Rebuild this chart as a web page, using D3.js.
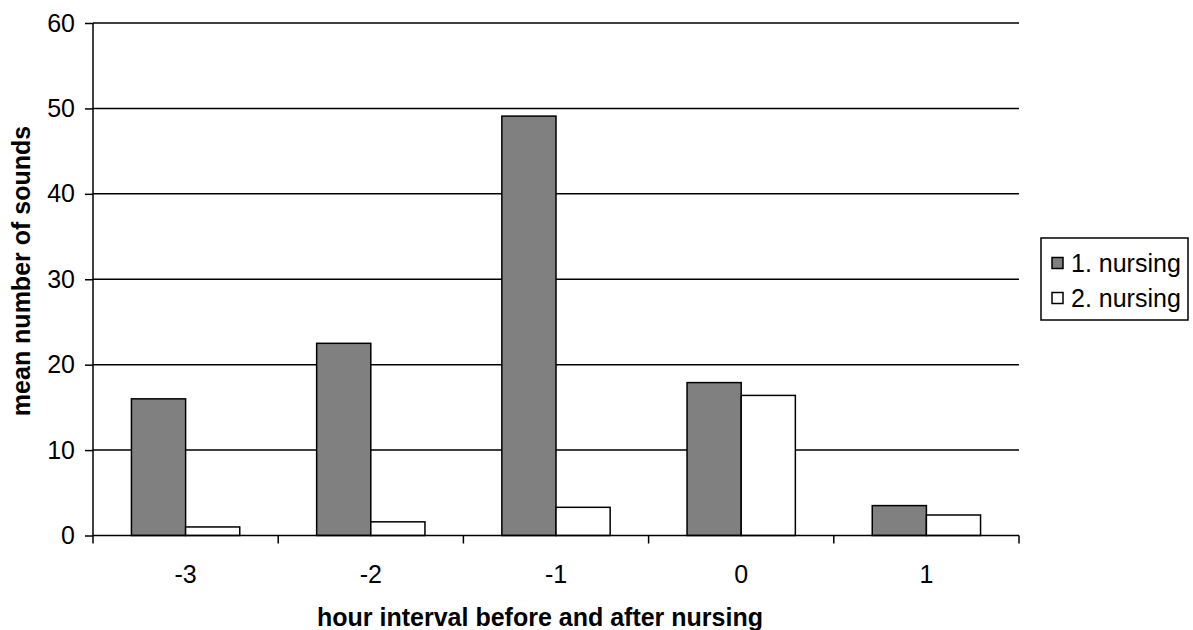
<!DOCTYPE html>
<html><head><meta charset="utf-8">
<script src="https://cdn.jsdelivr.net/npm/d3@7"></script>
<style>body{margin:0;background:#fff}svg{display:block}text{font-family:Arial,"Liberation Sans",sans-serif}</style>
</head><body>
<svg id="c" width="1193" height="630"></svg>
<script>
const categories = ["-3","-2","-1","0","1"];
const seriesNames = ["1. nursing","2. nursing"];
const nursing1 = [16.0, 22.5, 49.1, 17.9, 3.5];
const nursing2 = [1.0, 1.6, 3.3, 16.4, 2.4];
const yTicks = [0,10,20,30,40,50,60];
const colors = ["#808080","#ffffff"];

const FS = 25;
const svg = d3.select("#c");
const m = {l:93, r:1019, t:23, b:535.5};
const x = d3.scaleBand().domain(categories).range([m.l,m.r]);
const xs = d3.scaleBand().domain(seriesNames).range([0,x.bandwidth()]).paddingInner(0).paddingOuter(0.71);
const y = d3.scaleLinear().domain([0,60]).range([m.b,m.t]);

// gridlines
svg.append("g").selectAll("line").data(yTicks.filter(d=>d>0)).join("line")
  .attr("x1",m.l).attr("x2",m.r).attr("y1",d=>y(d)).attr("y2",d=>y(d))
  .attr("stroke","#000").attr("stroke-width",1.5);

const series = [nursing1,nursing2];
series.forEach((vals,si)=>{
  svg.append("g").selectAll("rect").data(vals).join("rect")
    .attr("x",(d,i)=>x(categories[i])+xs(seriesNames[si]))
    .attr("width",xs.bandwidth())
    .attr("y",d=>y(d)).attr("height",d=>y(0)-y(d))
    .attr("fill",colors[si]).attr("stroke","#000").attr("stroke-width",1.5);
});

// y axis
const ya = svg.append("g").attr("transform",`translate(${m.l},0)`)
  .call(d3.axisLeft(y).tickValues(yTicks).tickSize(8).tickPadding(10));
ya.select(".domain").attr("stroke","#000").attr("stroke-width",1.5).attr("d",`M0,${m.t}V${m.b+8}`);
ya.selectAll(".tick line").attr("stroke","#000").attr("stroke-width",1.5);
ya.selectAll("text").attr("font-size",FS).attr("fill","#000").attr("font-family","Arial,'Liberation Sans',sans-serif");

// x axis
const xa = svg.append("g").attr("transform",`translate(0,${m.b})`)
  .call(d3.axisBottom(x).tickSize(0).tickPadding(30));
xa.select(".domain").attr("stroke","#000").attr("stroke-width",1.5).attr("d",`M${m.l},0H${m.r}`);
xa.selectAll("text").attr("font-size",FS).attr("fill","#000").attr("font-family","Arial,'Liberation Sans',sans-serif");
const xb = categories.map(c=>x(c)+x.bandwidth());
svg.append("g").selectAll("line").data(xb).join("line")
  .attr("x1",d=>d).attr("x2",d=>d).attr("y1",m.b).attr("y2",m.b+8)
  .attr("stroke","#000").attr("stroke-width",1.5);

// axis titles
svg.append("text").attr("x",540).attr("y",626).attr("text-anchor","middle")
  .attr("font-size",FS).attr("font-weight","bold").text("hour interval before and after nursing");
svg.append("text").attr("transform",`translate(30,271) rotate(-90)`).attr("text-anchor","middle")
  .attr("font-size",FS).attr("font-weight","bold").text("mean number of sounds");

// legend
const lg = svg.append("g");
lg.append("rect").attr("x",1041).attr("y",238).attr("width",147).attr("height",82)
  .attr("fill","#fff").attr("stroke","#000").attr("stroke-width",1.5);
seriesNames.forEach((s,i)=>{
  const cy = 263 + i*35;
  lg.append("rect").attr("x",1052).attr("y",cy-5.5).attr("width",11).attr("height",11)
    .attr("fill",colors[i]).attr("stroke","#000").attr("stroke-width",1.5);
  lg.append("text").attr("x",1071).attr("y",cy+9).attr("font-size",FS).text(s);
});
</script>
</body></html>
